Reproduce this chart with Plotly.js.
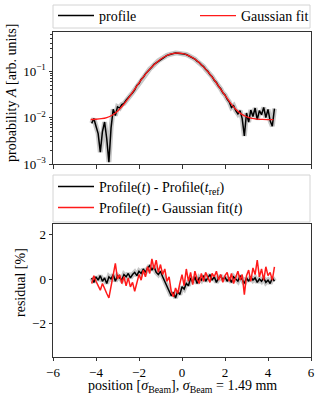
<!DOCTYPE html>
<html>
<head>
<meta charset="utf-8">
<script src="https://cdn.plot.ly/plotly-3.0.1.min.js"></script>
<style>html,body{margin:0;padding:0;background:#fff}#chart{width:316px;height:393px}</style>
</head>
<body>
<div id="chart"></div>
<script>
// ---- data ----
const pos = [-4.2,-4.1,-4.0,-3.9,-3.8,-3.7,-3.6,-3.5,-3.4,-3.3,-3.2,-3.1,-3.0,-2.9,-2.8,-2.7,-2.6,-2.5,-2.4,-2.3,
  -2.2,-2.1,-2.0,-1.9,-1.8,-1.7,-1.6,-1.5,-1.4,-1.3,-1.2,-1.1,-1.0,-0.9,-0.8,-0.7,-0.6,-0.5,-0.4,-0.3,-0.2,-0.1,
  0.0,0.1,0.2,0.3,0.4,0.5,0.6,0.7,0.8,0.9,1.0,1.1,1.2,1.3,1.4,1.5,1.6,1.7,1.8,1.9,2.0,2.1,2.2,2.3,2.4,2.5,
  2.6,2.7,2.8,2.9,3.0,3.1,3.2,3.3,3.4,3.5,3.6,3.7,3.8,3.9,4.0,4.1,4.2,4.3];

const profile = [0.0075,0.0095,0.0065,0.0045,0.0018,0.0050,0.0080,0.0035,0.0011,0.0060,0.0150,0.0110,0.0170,0.0160,0.0190,0.0200,0.0235,0.0260,0.0300,0.0340,
  0.0395,0.0490,0.0540,0.0660,0.0730,0.0870,0.0960,0.1110,0.1220,0.1390,0.1500,0.1670,0.1790,0.1940,0.2040,0.2170,0.2250,0.2350,0.2380,0.2440,0.2430,0.2420,
  0.2400,0.2330,0.2270,0.2150,0.2060,0.1920,0.1810,0.1640,0.1530,0.1360,0.1250,0.1090,0.0985,0.0840,0.0755,0.0635,0.0565,0.0470,0.0415,0.0340,0.0305,0.0250,0.0215,0.0165,0.0180,0.0140,
  0.0120,0.0140,0.0095,0.0040,0.0125,0.0080,0.0145,0.0105,0.0160,0.0090,0.0140,0.0115,0.0165,0.0100,0.0150,0.0085,0.0065,0.0155];

const fitPos = [-4.25,-4.0,-3.75,-3.5,-3.25,-3.0,-2.75,-2.5,-2.25,-2.0,-1.75,-1.5,-1.25,-1.0,-0.75,-0.5,-0.25,
  0.0,0.25,0.5,0.75,1.0,1.25,1.5,1.75,2.0,2.25,2.5,2.75,3.0,3.25,3.5,3.75,4.0,4.25];
const gaussFit = [0.00906,0.00917,0.00943,0.0100,0.0112,0.0137,0.0181,0.0257,0.0377,0.0555,0.0797,0.110,0.144,0.180,0.211,0.234,0.244,
  0.239,0.221,0.193,0.159,0.123,0.091,0.0644,0.0441,0.0299,0.0207,0.0151,0.0120,0.0104,0.0096,0.00925,0.0091,0.00905,0.00902];

const residRef = [0.05,-0.15,0.10,-0.05,0.15,-0.10,0.05,-0.20,0.10,0.00,0.20,-0.10,0.15,0.05,-0.05,0.20,0.10,0.25,0.05,0.20,
  0.30,0.15,0.35,0.25,0.45,0.30,0.50,0.60,0.40,0.55,0.30,0.20,0.35,0.10,-0.10,-0.30,-0.50,-0.75,-0.60,-0.85,-0.55,-0.70,
  -0.35,-0.45,-0.20,-0.30,0.05,-0.15,0.10,-0.20,0.05,-0.05,0.15,-0.10,0.05,0.20,-0.05,0.10,-0.15,0.05,0.15,-0.05,0.10,-0.10,0.05,-0.15,0.10,0.00,
  -0.10,0.15,-0.05,-0.20,0.05,-0.10,0.10,-0.05,0.05,-0.15,0.00,-0.10,0.05,-0.15,-0.05,-0.20,0.05,-0.10];

const residFit = [-0.20,0.15,-0.10,-0.30,-0.50,-0.20,-0.45,-0.65,-0.85,-0.30,0.10,0.70,0.00,0.20,-0.20,0.10,-0.30,0.05,-0.35,-0.15,
  -0.55,-0.10,0.20,-0.05,0.40,0.10,0.55,0.25,0.90,0.45,0.85,0.30,0.65,0.20,0.45,-0.10,0.10,-0.55,-0.80,-0.40,-0.65,-0.20,
  0.20,-0.30,0.45,-0.10,0.30,-0.25,0.35,0.00,-0.20,0.25,-0.10,0.30,0.05,-0.15,0.25,0.10,0.35,-0.05,0.20,-0.15,0.15,0.30,-0.10,0.25,-0.20,0.10,
  0.35,-0.05,0.20,-0.70,0.15,0.40,-0.10,0.50,0.20,0.85,0.10,0.45,-0.05,0.55,0.15,0.30,-0.05,0.55];

const logTickVals = [0.001, 0.01, 0.1];
const logTickText = ['10<sup>−3</sup>', '10<sup>−2</sup>', '10<sup>−1</sup>'];

// ---- layout helpers ----
const W = 316, H = 393;
const px = v => v / W;
const py = v => 1 - v / H;
const FONT = 'Liberation Serif, Times New Roman, serif';

const band = 'rgba(0,0,0,0.22)';
const traces = [
  {x: pos, y: profile, type: 'scatter', mode: 'lines', line: {color: band, width: 5}, showlegend: false, hoverinfo: 'skip', xaxis: 'x', yaxis: 'y'},
  {x: pos, y: profile, type: 'scatter', mode: 'lines', name: 'profile', line: {color: '#000', width: 1.5}, xaxis: 'x', yaxis: 'y', legend: 'legend'},
  {x: fitPos, y: gaussFit, type: 'scatter', mode: 'lines', name: 'Gaussian fit', line: {color: '#ff1a1a', width: 1.3, shape: 'spline'}, xaxis: 'x', yaxis: 'y', legend: 'legend3'},
  {x: pos, y: residRef, type: 'scatter', mode: 'lines', line: {color: band, width: 5}, showlegend: false, hoverinfo: 'skip', xaxis: 'x2', yaxis: 'y2'},
  {x: pos, y: residRef, type: 'scatter', mode: 'lines', name: 'Profile(<i>t</i>) - Profile(<i>t</i><sub>ref</sub>)', line: {color: '#000', width: 1.5}, xaxis: 'x2', yaxis: 'y2', legend: 'legend2'},
  {x: pos, y: residFit, type: 'scatter', mode: 'lines', name: 'Profile(<i>t</i>) - Gaussian fit(<i>t</i>)', line: {color: '#ff1a1a', width: 1.5}, xaxis: 'x2', yaxis: 'y2', legend: 'legend4'}
];

const axCommon = {showline: true, mirror: true, linecolor: '#333', linewidth: 1, ticks: 'outside', ticklen: 3.5, tickwidth: 1, tickcolor: '#333', showgrid: false, zeroline: false, tickfont: {family: FONT, size: 13, color: '#000'}};
const legFont = {family: FONT, size: 14, color: '#000'};
const legBase = {xanchor: 'left', yanchor: 'middle', orientation: 'v', bgcolor: 'rgba(0,0,0,0)', borderwidth: 0, font: legFont, itemwidth: 36};
const titleFont = {family: FONT, size: 14, color: '#000'};

const layout = {
  width: W, height: H,
  margin: {l: 0, r: 0, t: 0, b: 0},
  paper_bgcolor: '#fff', plot_bgcolor: '#fff',
  font: {family: FONT, size: 14, color: '#000'},
  showlegend: true,
  xaxis: Object.assign({}, axCommon, {domain: [px(53), px(311)], range: [-6, 6], tickvals: [-6, -4, -2, 0, 2, 4, 6], showticklabels: false, anchor: 'y'}),
  yaxis: Object.assign({}, axCommon, {domain: [py(164), py(32)], type: 'log', range: [-3, -0.16], tickvals: logTickVals, ticktext: logTickText, anchor: 'x',
    minor: {ticks: 'outside', ticklen: 2, tickcolor: '#333', tickvals: [0.002,0.003,0.004,0.005,0.006,0.007,0.008,0.009,0.02,0.03,0.04,0.05,0.06,0.07,0.08,0.09,0.2,0.3,0.4,0.5,0.6]}}),
  xaxis2: Object.assign({}, axCommon, {domain: [px(53), px(311)], range: [-6, 6], tickvals: [-6, -4, -2, 0, 2, 4, 6], anchor: 'y2', ticklen: 3}),
  yaxis2: Object.assign({}, axCommon, {domain: [py(357), py(224)], range: [-3.5, 2.47], tickvals: [-2, 0, 2], anchor: 'x2'}),
  legend: Object.assign({}, legBase, {x: px(53), y: py(16)}),
  legend3: Object.assign({}, legBase, {x: px(195), y: py(16)}),
  legend2: Object.assign({}, legBase, {x: px(53), y: py(187)}),
  legend4: Object.assign({}, legBase, {x: px(53), y: py(208)}),
  annotations: [
    {text: 'probability <i>A</i> [arb. units]', xref: 'paper', yref: 'paper', x: px(11), y: py(93), xanchor: 'center', yanchor: 'middle', textangle: -90, showarrow: false, font: titleFont},
    {text: 'residual [%]', xref: 'paper', yref: 'paper', x: px(20), y: py(283), xanchor: 'center', yanchor: 'middle', textangle: -90, showarrow: false, font: titleFont},
    {text: 'position [<i>σ</i><sub>Beam</sub>], <i>σ</i><sub>Beam</sub> = 1.49 mm', xref: 'paper', yref: 'paper', x: px(182), y: py(386), xanchor: 'center', yanchor: 'middle', showarrow: false, font: titleFont}
  ],
  shapes: [
    {type: 'rect', xref: 'paper', yref: 'paper', x0: px(53), x1: px(310), y0: py(28), y1: py(5), line: {color: '#d4d4d4', width: 1}, fillcolor: 'rgba(255,255,255,0.8)', layer: 'below'},
    {type: 'rect', xref: 'paper', yref: 'paper', x0: px(53), x1: px(310), y0: py(222), y1: py(175), line: {color: '#d4d4d4', width: 1}, fillcolor: 'rgba(255,255,255,0.8)', layer: 'below'}
  ]
};

Plotly.newPlot('chart', traces, layout, {staticPlot: true, displayModeBar: false});
</script>
</body>
</html>
